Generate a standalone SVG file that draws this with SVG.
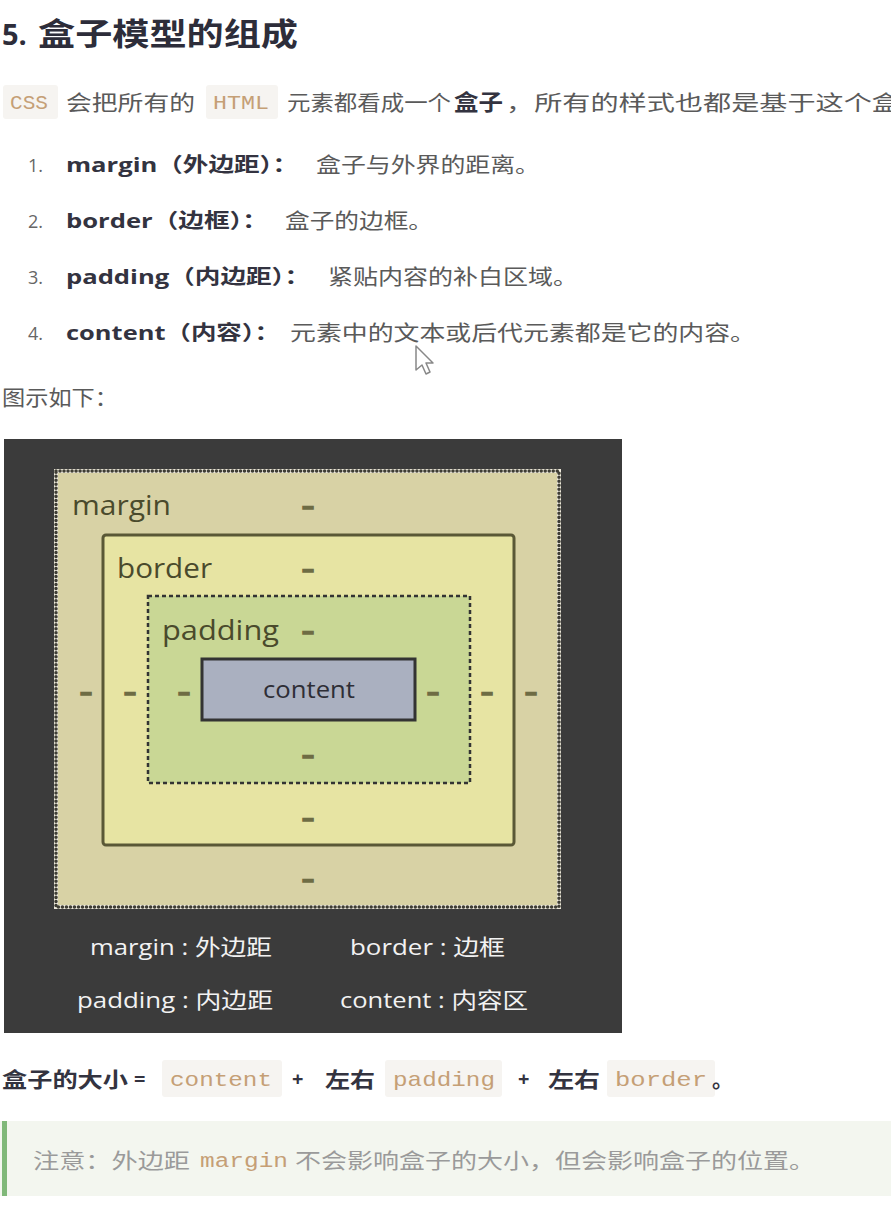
<svg xmlns="http://www.w3.org/2000/svg" width="891" height="1213" viewBox="0 0 891 1213">
<style>
.cjk{font-family:"Noto Sans CJK SC","Noto Sans",sans-serif;}
.lat{font-family:"Open Sans","Noto Sans","Noto Sans CJK SC",sans-serif;}
.mono{font-family:"Liberation Mono","DejaVu Sans Mono",monospace;}
.body{fill:#5a5a5a;font-size:21px;}
.bold{font-weight:bold;fill:#333340;}
.code{fill:#c59f76;}
.codebg{fill:#f6f4f1;}
.lbl{fill:#4a4a2c;font-size:28px;}
.dash{fill:#6e6c44;stroke:#6e6c44;stroke-width:1.5;font-size:24px;font-weight:bold;text-anchor:middle;}
.leg{fill:#f2f2f2;font-size:22px;}
</style>
<rect width="891" height="1213" fill="#ffffff"/>

<g id="heading">
<text x="2" y="45" class="lat" font-size="29" font-weight="bold" fill="#2d2d3a">5.</text>
<text x="38" y="45" class="cjk" font-size="31" font-weight="bold" fill="#2d2d3a" textLength="260" lengthAdjust="spacingAndGlyphs">盒子模型的组成</text>
</g>

<g id="intro">
<rect x="3" y="85" width="55" height="34" rx="3" class="codebg"/>
<text x="10" y="109" class="mono code" font-size="20" textLength="38" lengthAdjust="spacingAndGlyphs">CSS</text>
<text x="66" y="110" class="cjk body" font-size="22" textLength="129" lengthAdjust="spacingAndGlyphs">会把所有的</text>
<rect x="206" y="85" width="72" height="34" rx="3" class="codebg"/>
<text x="213" y="109" class="mono code" font-size="20" textLength="56" lengthAdjust="spacingAndGlyphs">HTML</text>
<text x="287" y="110" class="cjk body" font-size="22" textLength="164" lengthAdjust="spacingAndGlyphs">元素都看成一个</text>
<text x="454" y="110" class="cjk bold" font-size="22" textLength="49" lengthAdjust="spacingAndGlyphs">盒子</text>
<text x="506" y="110" class="cjk body" font-size="22" textLength="394" lengthAdjust="spacingAndGlyphs">，所有的样式也都是基于这个盒</text>
</g>

<g id="list">
<text x="28" y="172" class="lat" font-size="18" fill="#666">1.</text>
<text x="66" y="172" class="lat bold" font-size="20" textLength="232" lengthAdjust="spacingAndGlyphs">margin（外边距）：</text>
<text x="316" y="172" class="cjk body" textLength="224" lengthAdjust="spacingAndGlyphs">盒子与外界的距离。</text>

<text x="28" y="228" class="lat" font-size="18" fill="#666">2.</text>
<text x="66" y="228" class="lat bold" font-size="20" textLength="202" lengthAdjust="spacingAndGlyphs">border（边框）：</text>
<text x="285" y="228" class="cjk body" textLength="148" lengthAdjust="spacingAndGlyphs">盒子的边框。</text>

<text x="28" y="284" class="lat" font-size="18" fill="#666">3.</text>
<text x="66" y="284" class="lat bold" font-size="20" textLength="244" lengthAdjust="spacingAndGlyphs">padding（内边距）：</text>
<text x="328" y="284" class="cjk body" textLength="250" lengthAdjust="spacingAndGlyphs">紧贴内容的补白区域。</text>

<text x="28" y="340" class="lat" font-size="18" fill="#666">4.</text>
<text x="66" y="340" class="lat bold" font-size="20" textLength="214" lengthAdjust="spacingAndGlyphs">content（内容）：</text>
<text x="290" y="340" class="cjk body" textLength="466" lengthAdjust="spacingAndGlyphs">元素中的文本或后代元素都是它的内容。</text>
</g>

<g id="cursor">
<path d="M416,346 L416,370 L422,365 L426,374 L430,372 L426,363 L433,363 Z" fill="#ffffff" stroke="#888" stroke-width="1.5" stroke-linejoin="round"/>
</g>

<g id="caption">
<text x="2" y="405" class="cjk body" font-size="22" textLength="116" lengthAdjust="spacingAndGlyphs">图示如下：</text>
</g>

<g id="diagram">
<rect x="4" y="439" width="618" height="594" fill="#3b3b3b"/>
<g id="margin-box">
<rect x="56" y="471" width="503" height="436" fill="#d8d2a5"/>
<rect x="56" y="471" width="503" height="436" fill="none" stroke="#eeeadc" stroke-width="4"/>
<rect x="56" y="471" width="503" height="436" fill="none" stroke="#3e3d34" stroke-width="3.5" stroke-dasharray="0.01 4" stroke-linecap="round"/>
<text x="72" y="515" class="lat lbl" textLength="99" lengthAdjust="spacingAndGlyphs">margin</text>
</g>
<g id="border-box">
<rect x="103" y="535" width="411" height="310" rx="3" fill="#e7e4a3" stroke="#5a5836" stroke-width="3"/>
<text x="117" y="578" class="lat lbl" textLength="95" lengthAdjust="spacingAndGlyphs">border</text>
</g>
<g id="padding-box">
<rect x="148" y="596" width="322" height="187" fill="#c9d795" stroke="#333" stroke-width="2.5" stroke-dasharray="4 3"/>
<text x="162" y="640" class="lat lbl" textLength="117" lengthAdjust="spacingAndGlyphs">padding</text>
</g>
<g id="content-box">
<rect x="202" y="659" width="213" height="61" fill="#aab0c0" stroke="#333" stroke-width="3"/>
<text x="263" y="698" class="lat" font-size="23" fill="#2e2e36" textLength="92" lengthAdjust="spacingAndGlyphs">content</text>
</g>
<g id="dashes">
<text x="308" y="514" class="lat dash">–</text>
<text x="308" y="577" class="lat dash">–</text>
<text x="308" y="639" class="lat dash">–</text>
<text x="86" y="700" class="lat dash">–</text>
<text x="130" y="700" class="lat dash">–</text>
<text x="184" y="700" class="lat dash">–</text>
<text x="433" y="700" class="lat dash">–</text>
<text x="487" y="700" class="lat dash">–</text>
<text x="531" y="700" class="lat dash">–</text>
<text x="308" y="763" class="lat dash">–</text>
<text x="308" y="826" class="lat dash">–</text>
<text x="308" y="887" class="lat dash">–</text>
</g>
<g id="legend">
<text x="90" y="955" class="lat leg" textLength="182" lengthAdjust="spacingAndGlyphs">margin : 外边距</text>
<text x="350" y="955" class="lat leg" textLength="155" lengthAdjust="spacingAndGlyphs">border : 边框</text>
<text x="77" y="1008" class="lat leg" textLength="196" lengthAdjust="spacingAndGlyphs">padding : 内边距</text>
<text x="340" y="1008" class="lat leg" textLength="188" lengthAdjust="spacingAndGlyphs">content : 内容区</text>
</g>
</g>

<g id="formula">
<text x="2" y="1087" class="cjk bold" font-size="21" textLength="126" lengthAdjust="spacingAndGlyphs">盒子的大小</text>
<text x="134" y="1086" class="lat bold" font-size="20">=</text>
<rect x="162" y="1060" width="120" height="37" rx="3" class="codebg"/>
<text x="170" y="1086" class="mono code" font-size="21" textLength="102" lengthAdjust="spacingAndGlyphs">content</text>
<text x="292" y="1086" class="lat bold" font-size="20">+</text>
<text x="325" y="1087" class="cjk bold" font-size="21" textLength="50" lengthAdjust="spacingAndGlyphs">左右</text>
<rect x="385" y="1060" width="117" height="37" rx="3" class="codebg"/>
<text x="393" y="1086" class="mono code" font-size="21" textLength="102" lengthAdjust="spacingAndGlyphs">padding</text>
<text x="518" y="1086" class="lat bold" font-size="20">+</text>
<text x="548" y="1087" class="cjk bold" font-size="21" textLength="52" lengthAdjust="spacingAndGlyphs">左右</text>
<rect x="607" y="1060" width="108" height="37" rx="3" class="codebg"/>
<text x="615" y="1086" class="mono code" font-size="21" textLength="92" lengthAdjust="spacingAndGlyphs">border</text>
<text x="712" y="1087" class="cjk bold" font-size="21">。</text>
</g>

<g id="note">
<rect x="0" y="1121" width="891" height="75" fill="#f3f6ef"/>
<rect x="2" y="1121" width="5" height="75" fill="#80b879"/>
<text x="33" y="1168" class="cjk" font-size="21" fill="#9a9a9a" textLength="157" lengthAdjust="spacingAndGlyphs">注意：外边距</text>
<text x="200" y="1167" class="mono code" font-size="20" textLength="88" lengthAdjust="spacingAndGlyphs">margin</text>
<text x="295" y="1168" class="cjk" font-size="21" fill="#9a9a9a" textLength="520" lengthAdjust="spacingAndGlyphs">不会影响盒子的大小，但会影响盒子的位置。</text>
</g>
</svg>
